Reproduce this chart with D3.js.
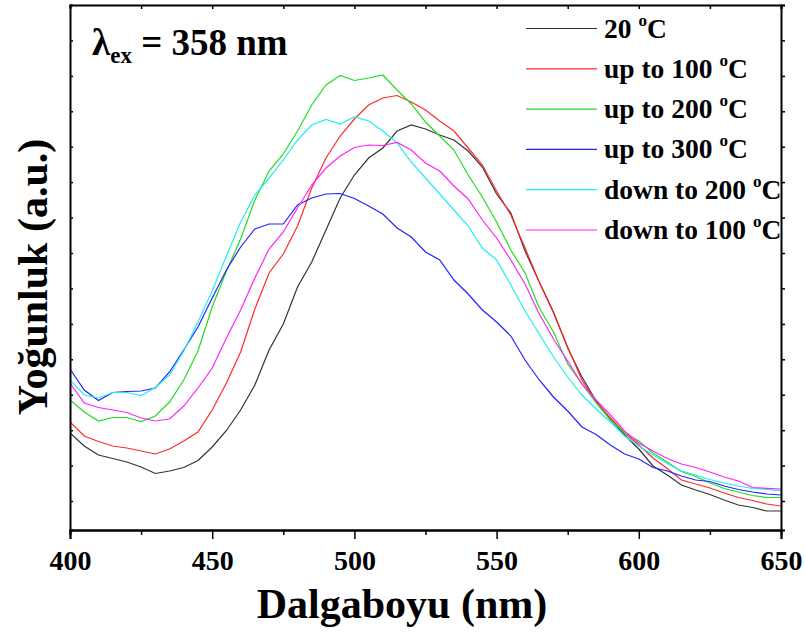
<!DOCTYPE html>
<html>
<head>
<meta charset="utf-8">
<script src="https://cdn.jsdelivr.net/npm/d3@7"></script>
<style>
  body { margin: 0; background: #fff; }
  text { font-family: "Liberation Serif", "Times New Roman", serif; font-weight: bold; }
</style>
</head>
<body>
<svg id="chart" width="805" height="635"></svg>
<script>
// wavelength grid, 400..650 nm every 5 nm
const wavelengths = [400,405,410,415,420,425,430,435,440,445,450,455,460,465,470,475,480,485,490,495,
  500,505,510,515,520,525,530,535,540,545,550,555,560,565,570,575,580,585,590,595,
  600,605,610,615,620,625,630,635,640,645,650];

// intensities (a.u.)
const temp20 = [97,84,75,71.5,68,63,56.5,59,62.5,69.5,83,99.5,120,145,180,206,243,268,300,332,
  355,372,382,399,405,401,395,390,379,363,336,317,279,248,218,182,153,129,111,95,
  81,64,55,45,40,35.5,30,25,22.5,19,19];
const upTo100 = [108,94,88.5,84,82,79,76,81,89,98,120,147,178,221,257,276,304,342,372,394,
  411,425,432,434.5,428,420,409,399,382,365,339,315,282,248,217,183,150,128,112,97,
  85,72,61.5,50,46,42,37,32.5,29.5,26,24];
const upTo200 = [130,118,109,112.5,112.5,108.5,114,128,150,179,223,259,291,330,359,376,399,425,445,454.5,
  449.5,452,455,440,426,408,394,380,355,333,308,280,257,222,198,166,146,127,110,97,
  89,77,68,58.5,53.5,47,41.5,38,34.5,32.5,32.5];
const upTo300 = [161,140,129.5,137.5,138.5,139,142,158,180,203,232,260,283,301,306,306,325,332,336,336.5,
  331.5,324,316,302,293,278,270,250,236,220,208,194,170,150,133,119,103,95.5,85,76,
  71,62.5,59,54,50,48.5,44,40.5,38,36,35];
const downTo200 = [150,135,132,137.5,137.5,134.5,142.5,155,179,208,239,274,308,335,352,370,390,405,410.5,406,
  413,409,399,387,368,352,336,320,304,282,270,245,219,196,173,153,135,121,108,94,
  84,75,66.5,59,55,50.5,47,44,41.5,40.7,39.3];
const downTo100 = [147,127,122.5,120,117.5,112,109,111,124,142,162,192,220,252,281,298,322,345,362,374,
  382.5,385,384.5,387.5,380,367,359,344,331,310,292,270,246,216,191,169,146,130,115,99,
  87,79,71.5,66,62.5,58,53,49,42.5,41.7,41];

const seriesNames = ["20 \u00b0C", "up to 100 \u00b0C", "up to 200 \u00b0C", "up to 300 \u00b0C", "down to 200 \u00b0C", "down to 100 \u00b0C"];
const seriesColors = ["#333333", "#ff2a2a", "#22dd22", "#2222ff", "#22eeee", "#ff22ff"];
const seriesValues = [temp20, upTo100, upTo200, upTo300, downTo200, downTo100];

const xMajorTicks = [400, 450, 500, 550, 600, 650];
const xMinorTicks = [425, 475, 525, 575, 625];
const yTicks = [29, 64.4, 99.8, 135.3, 170.7, 206.1, 241.6, 277, 312.4, 347.9, 383.3, 418.7, 454.1, 489.6, 525];

const svg = d3.select("#chart");
const plotLeft = 70, plotRight = 781, plotTop = 5, plotBottom = 530;

const x = d3.scaleLinear().domain([400, 650]).range([plotLeft, plotRight]);
const y = d3.scaleLinear().domain([0, 525]).range([plotBottom, plotTop]);

svg.append("clipPath").attr("id", "plotclip")
  .append("rect").attr("x", plotLeft).attr("y", plotTop)
  .attr("width", plotRight - plotLeft).attr("height", plotBottom - plotTop);

const line = d3.line()
  .x((d, i) => x(wavelengths[i]))
  .y(d => y(d));

svg.append("g").attr("clip-path", "url(#plotclip)")
  .selectAll("path")
  .data(seriesValues)
  .join("path")
  .attr("d", line)
  .attr("fill", "none")
  .attr("stroke", (d, i) => seriesColors[i])
  .attr("stroke-width", 1.2);

// axes
const bottomAxis = svg.append("g").attr("transform", `translate(0,${plotBottom})`)
  .call(d3.axisBottom(x).tickValues(xMajorTicks).tickSize(9).tickPadding(11).tickFormat(d3.format("d")));
svg.append("g").attr("transform", `translate(0,${plotBottom})`)
  .call(d3.axisBottom(x).tickValues(xMinorTicks).tickSize(5).tickFormat(""));
svg.append("g").attr("transform", `translate(0,${plotTop})`)
  .call(d3.axisTop(x).tickValues(xMinorTicks.concat(xMajorTicks)).tickSize(-4).tickFormat(""));
svg.append("g").attr("transform", `translate(${plotLeft},0)`)
  .call(d3.axisLeft(y).tickValues(yTicks).tickSize(-3).tickFormat(""));
svg.append("g").attr("transform", `translate(${plotRight},0)`)
  .call(d3.axisRight(y).tickValues(yTicks).tickSize(4).tickFormat(""));

svg.selectAll(".domain").attr("stroke", "#000").attr("stroke-width", 2);
svg.selectAll(".tick line").attr("stroke", "#000").attr("stroke-width", 1.5);
bottomAxis.selectAll(".tick text")
  .attr("font-family", "Liberation Serif, serif")
  .attr("font-weight", "bold")
  .attr("font-size", 28)
  .attr("fill", "#000");

// axis titles
svg.append("text")
  .attr("x", 402)
  .attr("y", 618)
  .attr("text-anchor", "middle")
  .attr("font-size", 42)
  .text("Dalgaboyu (nm)");

svg.append("text")
  .attr("transform", "translate(47,277) rotate(-90)")
  .attr("text-anchor", "middle")
  .attr("font-size", 42)
  .text("Yoğunluk (a.u.)");

// excitation label
const lam = svg.append("text").attr("x", 92).attr("y", 55).attr("font-size", 37);
lam.append("tspan").text("λ");
lam.append("tspan").attr("font-size", 23).attr("dy", 8).text("ex");
lam.append("tspan").attr("dy", -8).text(" = 358 nm");

// legend
const legend = svg.append("g");
seriesNames.forEach((name, i) => {
  const ly = 28.5 + i * 40.3;
  legend.append("line")
    .attr("x1", 526).attr("x2", 597)
    .attr("y1", ly).attr("y2", ly)
    .attr("stroke", seriesColors[i]).attr("stroke-width", 1.2);
  const parts = name.split(" \u00b0");
  const t = legend.append("text").attr("x", 604).attr("y", ly + 9).attr("font-size", 27.5);
  t.append("tspan").text(parts[0] + " ");
  t.append("tspan").attr("font-size", 17).attr("dy", -12).text("o");
  t.append("tspan").attr("dy", 12).text(parts[1]);
});
</script>
</body>
</html>
